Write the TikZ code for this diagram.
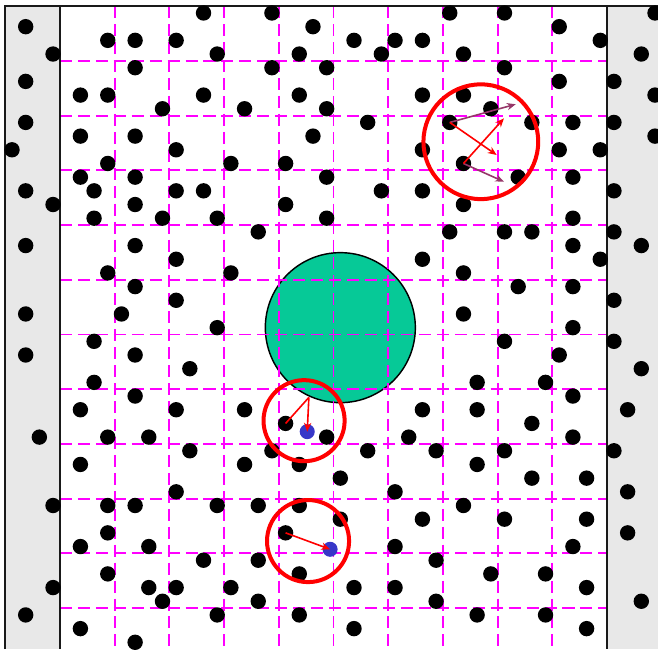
\documentclass[tikz,border=0pt]{standalone}
\usetikzlibrary{arrows.meta}
\definecolor{wallcol}{RGB}{232,232,232}
\definecolor{edgecol}{RGB}{25,25,25}
\definecolor{gridcol}{RGB}{255,0,255}
\definecolor{discol}{RGB}{6,201,151}
\definecolor{ringcol}{RGB}{255,0,0}
\definecolor{newcol}{RGB}{55,55,200}
\definecolor{velcol}{RGB}{150,55,105}

\begin{document}
\begin{tikzpicture}[
  x=0.3cm, y=-0.3cm,
  wall/.style={fill=wallcol},
  walledge/.style={draw=edgecol, line width=1.2pt},
  cellgrid/.style={draw=gridcol, line width=1.2pt, dash pattern=on 7.5pt off 3.7pt},
  obstacle/.style={fill=discol, draw=black, line width=0.9pt},
  particle/.style={fill=black},
  moved/.style={fill=newcol},
  ring/.style={draw=ringcol, line width=2.5pt},
  hop/.style={draw=ringcol, line width=1pt, -{Stealth[length=5.5pt,width=4.5pt]}},
  prevel/.style={draw=velcol, line width=1pt, -{Stealth[length=5.5pt,width=4.5pt]}}
]
\useasboundingbox (-0.877,-0.95) rectangle (47.22,46.49);

%% ===================== Walls =====================
\fill[wall] (-0.5,-0.5) rectangle (3.5,46.49);
\fill[wall] (43.5,-0.5) rectangle (47.22,46.49);

%% ===================== Obstacle ==================
\coordinate (disc) at (24,23);
\draw[obstacle] (disc) circle (46.8pt);

%% ===================== Collision cells ===========
\draw[cellgrid] foreach \i in {7.5,11.5,...,39.5} {(\i,-0.5) -- (\i,46.49)};
\draw[cellgrid] foreach \j in {3.5,7.5,...,43.5} {(3.5,\j) -- (43.5,\j)};

\draw[walledge] (-0.5,46.49) -- (-0.5,-0.5) -- (47.22,-0.5);
\draw[walledge] (3.5,-0.5) -- (3.5,46.49);
\draw[walledge] (43.5,-0.5) -- (43.5,46.49);

%% ===================== Particles =================
\foreach \i/\j in {14/0,19/0,32/0,36/0,47/0,
  1/1,22/1,40/1,
  7/2,9/2,12/2,25/2,28/2,30/2,43/2,
  3/3,15/3,21/3,27/3,33/3,46/3,
  9/4,19/4,23/4,36/4,
  1/5,40/5,44/5,
  5/6,7/6,14/6,21/6,30/6,33/6,47/6,
  11/7,17/7,23/7,35/7,
  1/8,26/8,32/8,38/8,41/8,44/8,
  5/9,9/9,22/9,47/9,
  0/10,12/10,30/10,40/10,43/10,
  7/11,16/11,20/11,33/11,
  5/12,9/12,23/12,37/12,41/12,
  1/13,6/13,12/13,14/13,27/13,30/13,44/13,
  3/14,9/14,20/14,33/14,
  6/15,11/15,15/15,23/15,41/15,
  18/16,32/16,36/16,38/16,44/16,
  1/17,9/17,41/17,46/17,
  12/18,30/18,43/18,
  7/19,16/19,33/19,
  9/20,37/20,41/20,
  12/21,44/21,
  1/22,8/22,33/22,
  15/23,41/23,
  6/24,36/24,44/24,
  1/25,9/25,40/25,
  13/26,46/26,
  6/27,34/27,39/27,
  9/28,41/28,
  5/29,12/29,17/29,30/29,34/29,45/29,
  20/30,38/30,
  2/31,7/31,10/31,23/31,29/31,41/31,
  13/32,19/32,26/32,31/32,36/32,44/32,
  5/33,17/33,21/33,34/33,
  24/34,38/34,42/34,
  12/35,28/35,45/35,
  3/36,7/36,9/36,15/36,18/36,21/36,33/36,
  24/37,30/37,36/37,42/37,
  7/38,20/38,45/38,
  5/39,10/39,28/39,41/39,
  14/40,18/40,31/40,
  7/41,21/41,35/41,39/41,
  3/42,10/42,12/42,16/42,25/42,28/42,42/42,
  11/43,18/43,31/43,46/43,
  1/44,15/44,21/44,34/44,39/44,
  5/45,25/45,42/45,
  9/46}
  \fill[particle] (\i,\j) circle (4.8pt);

%% ===================== Collision (top right) =====
\coordinate (pa)  at (32,8);
\coordinate (pb)  at (33,11);
\coordinate (pav) at (36.82,6.67);
\coordinate (pbv) at (35.96,12.33);
\coordinate (pan) at (35.43,10.38);
\coordinate (pbn) at (35.96,7.7);
\draw[prevel] (pa) -- (pav);
\draw[prevel] (pb) -- (pbv);
\draw[hop] (pa) -- (pan);
\draw[hop] (pb) -- (pbn);

%% ===================== Bounce and streaming ======
\coordinate (pc)  at (20,30);
\coordinate (pd)  at (20,38);
\coordinate (hit) at (21.7,28.1);
\coordinate (qc)  at (21.58,30.6);
\coordinate (qd)  at (23.25,39.2);
\fill[moved] (qc) circle (4.7pt);
\fill[moved] (qd) circle (4.7pt);
\draw[hop, -] (pc) -- (hit);
\draw[hop] (hit) -- (qc);
\draw[hop] (pd) -- (qd);

%% ===================== Highlights ================
\draw[ring] (34.27,9.41) circle (35.8pt);
\draw[ring] (21.35,29.8) circle (25.3pt);
\draw[ring] (21.64,38.6) circle (25.6pt);

\end{tikzpicture}
\end{document}
